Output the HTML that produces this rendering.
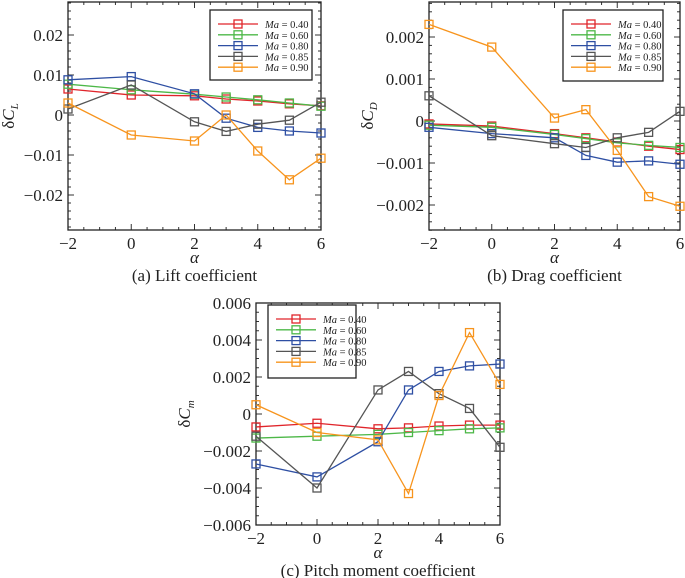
<!DOCTYPE html>
<html><head><meta charset="utf-8"><style>
body{margin:0;background:#fff;}
svg{display:block;}
svg text{font-family:"Liberation Serif","Times New Roman",Times,serif;}
</style></head><body>
<svg id="fig" width="685" height="578" viewBox="0 0 685 578"></svg>
<script>
const alphas=[-2,0,2,3,4,5,6];
const machLabels=["0.40","0.60","0.80","0.85","0.90"];
const colors=["#e0252b","#4db848","#2e4fa3","#555555","#f7941d"];
const liftM40=[0.0065,0.005,0.0048,0.004,0.0035,0.0028,0.0023];
const liftM60=[0.0077,0.0063,0.0052,0.0045,0.0038,0.003,0.0022];
const liftM80=[0.0088,0.0096,0.0053,-0.0008,-0.0031,-0.004,-0.0045];
const liftM85=[0.0015,0.0075,-0.0017,-0.0041,-0.0023,-0.0013,0.0032];
const liftM90=[0.003,-0.005,-0.0065,0,-0.009,-0.0162,-0.0108];
const dragM40=[-0.00007,-0.00012,-0.0003,-0.0004,-0.0005,-0.0006,-0.00068];
const dragM60=[-0.0001,-0.00015,-0.00032,-0.00042,-0.00052,-0.00058,-0.00063];
const dragM80=[-0.00015,-0.0003,-0.0004,-0.00082,-0.00098,-0.00095,-0.00103];
const dragM85=[0.0006,-0.00035,-0.00054,-0.00063,-0.0004,-0.00027,0.00023];
const dragM90=[0.0023,0.00176,0.00007,0.00027,-0.0007,-0.0018,-0.00203];
const pitchM40=[-0.0007,-0.0005,-0.0008,-0.00075,-0.00065,-0.0006,-0.0006];
const pitchM60=[-0.0013,-0.0012,-0.0011,-0.001,-0.0009,-0.0008,-0.00075];
const pitchM80=[-0.0027,-0.0034,-0.0015,0.0013,0.0023,0.0026,0.0027];
const pitchM85=[-0.0012,-0.004,0.0013,0.0023,0.0011,0.0003,-0.0018];
const pitchM90=[0.0005,-0.001,-0.0014,-0.0043,0.001,0.0044,0.0016];
const xTicks=[-2,0,2,4,6];
const liftTicks=[0.02,0.01,0,-0.01,-0.02];
const liftTickLabels=["0.02","0.01","0","\u22120.01","\u22120.02"];
const dragTicks=[0.002,0.001,0,-0.001,-0.002];
const dragTickLabels=["0.002","0.001","0","\u22120.001","\u22120.002"];
const pitchTicks=[0.006,0.004,0.002,0,-0.002,-0.004,-0.006];
const pitchTickLabels=["0.006","0.004","0.002","0","\u22120.002","\u22120.004","\u22120.006"];

const NS="http://www.w3.org/2000/svg";
const FONT='"Liberation Serif", "Times New Roman", serif';
const svg=document.getElementById('fig');
function mk(tag,attrs,parent,text){const e=document.createElementNS(NS,tag);for(const k in attrs)e.setAttribute(k,attrs[k]);if(tag==='text')e.setAttribute('font-family',FONT);if(text!==undefined)e.textContent=text;(parent||svg).appendChild(e);return e;}

function panel(o){
  const g=mk('g',{});
  
  
  const xs=v=>o.x0+(v-(-2))/8*(o.x1-o.x0);
  const ys=v=>o.yZero-v*o.yPer;
  for(let a=-2;a<=6;a+=0.5){const x=xs(a);const L=(a%2===0)?6:3;
    mk('line',{x1:x,y1:o.yb,x2:x,y2:o.yb-L,stroke:'#333','stroke-width':1},g);
    mk('line',{x1:x,y1:o.yt,x2:x,y2:o.yt+L,stroke:'#333','stroke-width':1},g);}
  for(let v=o.vmin;v<=o.vmax+1e-12;v+=o.minor){const y=ys(v);if(y<o.yt-0.5||y>o.yb+0.5)continue;
    mk('line',{x1:o.x0,y1:y,x2:o.x0+3,y2:y,stroke:'#333','stroke-width':1},g);
    mk('line',{x1:o.x1,y1:y,x2:o.x1-3,y2:y,stroke:'#333','stroke-width':1},g);}
  o.yTicks.forEach((v,i)=>{const y=ys(v);
    mk('line',{x1:o.x0,y1:y,x2:o.x0+6,y2:y,stroke:'#333','stroke-width':1},g);
    mk('line',{x1:o.x1,y1:y,x2:o.x1-6,y2:y,stroke:'#333','stroke-width':1},g);
    const t=mk('text',{x:o.x0-5,y:y+6,'text-anchor':'end','font-size':17,fill:'#222'},g,o.yTickLabels[i]);
    
    });
  xTicks.forEach(v=>{const t=mk('text',{x:xs(v),y:o.yb+19,'text-anchor':'middle','font-size':17,fill:'#222'},g,v<0?'\u2212'+(-v):String(v));
    
    });
  mk('rect',{x:o.x0,y:o.yt,width:o.x1-o.x0,height:o.yb-o.yt,fill:'none',stroke:'#222','stroke-width':1.3},g);
  o.series.forEach((s,si)=>{
    const pts=s.map((v,i)=>xs(alphas[i])+','+ys(v)).join(' ');
    const pl=mk('polyline',{points:pts,fill:'none',stroke:colors[si],'stroke-width':1.3},g);
    
    
    s.forEach((v,i)=>{const r=mk('rect',{x:xs(alphas[i])-4,y:ys(v)-4,width:8,height:8,fill:'none',stroke:colors[si],'stroke-width':1.3},g);
      
      });
  });
  const lg=mk('g',{},g);
  
  
  mk('rect',{x:o.lx,y:o.ly,width:o.lw,height:o.lh,fill:'#fff',stroke:'#222','stroke-width':1.3},lg);
  machLabels.forEach((m,i)=>{const y=o.ly+14+i*10.8;
    mk('line',{x1:o.lx+8,y1:y,x2:o.lx+48,y2:y,stroke:colors[i],'stroke-width':1.3},lg);
    mk('rect',{x:o.lx+24,y:y-4,width:8,height:8,fill:'none',stroke:colors[i],'stroke-width':1.3},lg);
    const t=mk('text',{x:o.lx+55,y:y+4,'font-size':10.5,fill:'#222'},lg);
    
    
    mk('tspan',{'font-style':'italic'},t,'Ma');mk('tspan',{},t,' = '+m);});
  const xl=mk('text',{x:(o.x0+o.x1)/2,y:o.yb+33,'text-anchor':'middle','font-size':17,'font-style':'italic',fill:'#222'},g,'\u03b1');
  
  const cy=(o.yt+o.yb)/2;
  const yl=mk('text',{transform:`translate(${o.ylx},${cy}) rotate(-90)`,'text-anchor':'middle','font-size':17,fill:'#222'},g);
  
  mk('tspan',{},yl,'\u03b4');mk('tspan',{'font-style':'italic'},yl,'C');mk('tspan',{'font-size':11,'font-style':'italic',dy:4},yl,o.sub);
  const cap=mk('text',{x:(o.x0+o.x1)/2,y:o.yb+51,'text-anchor':'middle','font-size':17,fill:'#222'},g,o.caption);
  
}
panel({name:'lift-chart',x0:68,x1:321,yt:2,yb:230,yZero:115,yPer:4000,vmin:-0.028,vmax:0.028,minor:0.002,yTicks:liftTicks,yTickLabels:liftTickLabels,series:[liftM40,liftM60,liftM80,liftM85,liftM90],lx:210,ly:10,lw:102,lh:70,ylx:14,sub:'L',caption:'(a) Lift coefficient'});
panel({name:'drag-chart',x0:429,x1:680,yt:2,yb:230,yZero:121,yPer:42000,vmin:-0.0026,vmax:0.0028,minor:0.0002,yTicks:dragTicks,yTickLabels:dragTickLabels,series:[dragM40,dragM60,dragM80,dragM85,dragM90],lx:563,ly:10,lw:100,lh:71,ylx:373,sub:'D',caption:'(b) Drag coefficient'});
panel({name:'pitch-chart',x0:256,x1:500,yt:303,yb:525,yZero:414,yPer:18500,vmin:-0.006,vmax:0.006,minor:0.0005,yTicks:pitchTicks,yTickLabels:pitchTickLabels,series:[pitchM40,pitchM60,pitchM80,pitchM85,pitchM90],lx:268,ly:305,lw:88,lh:73,ylx:190,sub:'m',caption:'(c) Pitch moment coefficient'});
</script>
</body></html>
